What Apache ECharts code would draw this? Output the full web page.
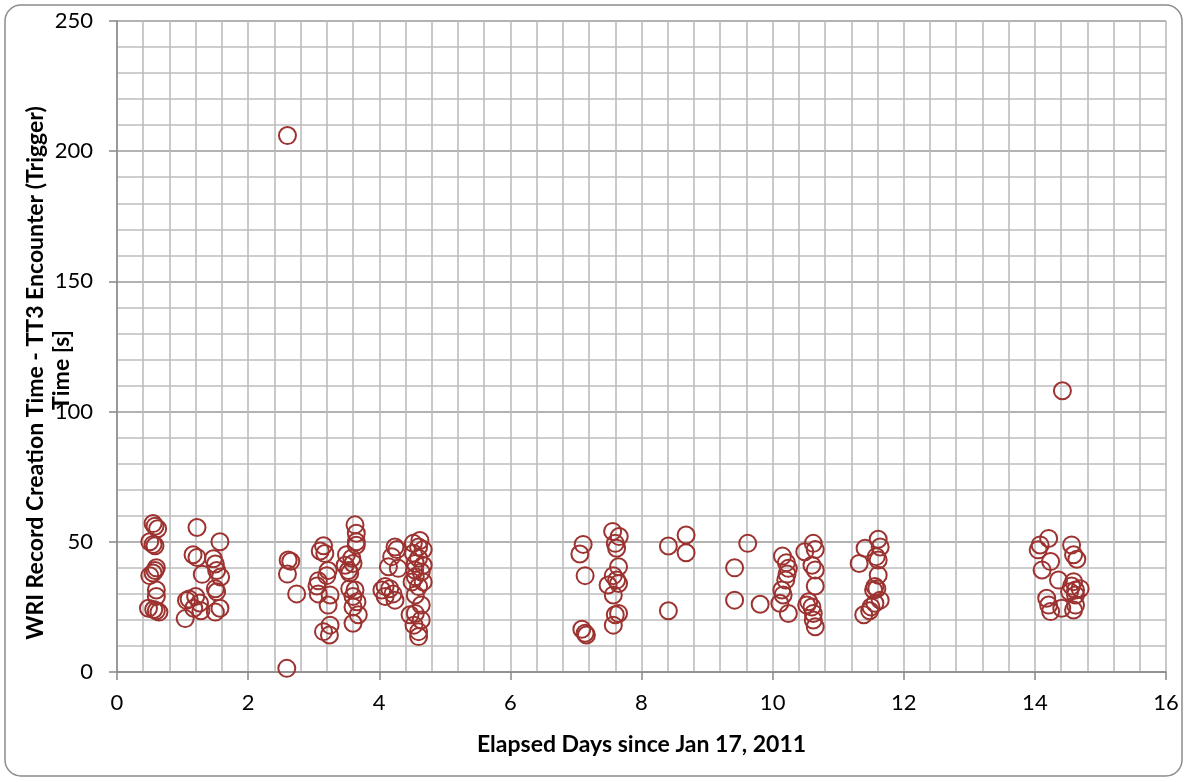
<!DOCTYPE html>
<html><head><meta charset="utf-8">
<script src="https://cdn.jsdelivr.net/npm/echarts@6/dist/echarts.min.js"></script>
<style>html,body{margin:0;padding:0;background:#fff}#c{width:1188px;height:782px}</style>
</head><body><div id="c"></div>
<script>
const xAxisTitle = 'Elapsed Days since Jan 17, 2011';
const yAxisTitle1 = 'WRI Record Creation Time - TT3 Encounter (Trigger)';
const yAxisTitle2 = 'Time [s]';
const days = [
 0.50,0.55,0.58,0.62,0.55,0.58,0.60,0.58,0.55,0.50,0.60,0.60,0.48,0.56,0.60,0.64,
 1.22,1.16,1.22,1.30,1.06,1.10,1.20,1.26,1.17,1.28,1.04,1.47,1.50,1.52,1.58,1.50,1.52,1.57,1.50,1.57,
 2.60,2.61,2.65,2.60,2.74,2.59,
 3.15,3.10,3.17,3.22,3.20,3.07,3.05,3.07,3.25,3.22,3.25,3.15,3.24,
 3.63,3.65,3.65,3.65,3.50,3.58,3.60,3.48,3.53,3.63,3.55,3.60,3.66,3.60,3.68,3.60,3.55,
 4.24,4.27,4.19,4.14,4.29,4.09,4.16,4.04,4.21,4.09,4.24,
 4.62,4.52,4.60,4.67,4.52,4.60,4.55,4.67,4.54,4.64,4.55,4.50,4.67,4.60,4.55,4.64,4.47,4.55,4.64,4.53,4.60,4.60,
 7.11,7.06,7.14,7.09,7.14,7.16,
 7.56,7.66,7.60,7.62,7.65,7.57,7.62,7.49,7.65,7.57,7.65,7.60,7.57,
 8.41,8.41,8.68,8.68,9.62,9.42,9.42,9.81,
 10.15,10.21,10.24,10.22,10.20,10.14,10.16,10.11,10.24,
 10.49,10.62,10.65,10.60,10.65,10.65,10.55,10.60,10.52,10.62,10.62,10.65,
 11.61,11.41,11.64,11.32,11.58,11.61,11.61,11.56,11.59,11.54,11.64,11.56,11.50,11.39,11.48,
 14.42,14.21,14.08,14.05,14.56,14.59,14.64,14.11,14.24,14.36,14.59,14.56,14.69,14.62,14.53,14.62,14.18,14.21,14.24,14.41,14.59,14.62
];
const seconds = [
 50,57,56,55,49,48.5,40,39,38,37,31.5,29,24.5,24,23.5,23,
 55.5,45,44,37.5,27.5,28,29,26.5,24.5,23.5,20.5,43.5,41.5,39,36.5,32,30.8,24.5,23,50,
 206,43,42.5,37.6,30,1.4,
 48.5,46.5,45.5,39,37,35,33,30,29.6,25.7,18,15.5,14.2,
 56.5,53.3,50,48.7,45,43.7,41.7,41,39,31.5,32,29,27,25,22,18.7,38,
 48,47,44.3,40.4,39.8,32.8,32,31.5,30,29,27.6,
 50.5,49.4,48,47,45.6,43.7,41.7,41,39.2,38.4,36.6,34.6,34.6,32.8,29.6,25.7,22,22.5,20,18,15.5,13.6,
 49,45.3,37,16.4,14.9,14.2,
 54,52,49.4,47.5,40.4,37,35.3,33.4,34,29.6,22.5,22,18,
 48.4,23.5,52.6,45.8,49.4,40,27.6,26,
 44.5,42,39.8,37.6,35.3,31.5,29.6,26.4,22.5,
 46.2,49.4,47,41,39.2,33,27,25,25.7,22.5,20,17.4,
 51,47.5,48,41.7,44.3,43,37.2,32.8,32,31.5,27.6,26.4,25,22,23.5,
 108,51.3,48.8,46.9,48.8,45,43.3,39.2,42.4,35.3,34.7,33,32,31.5,30.8,29.6,28.3,25.7,23.2,24.5,23.8,25.7
];
const points = days.map((d, i) => [d, seconds[i]]);

const chart = echarts.init(document.getElementById('c'), null, {renderer: 'canvas'});
const FONT = 'Lato, "Open Sans", sans-serif';
const minorGrid = {color: '#bcbcbc', width: 1.6};
chart.setOption({
  animation: false,
  backgroundColor: '#fff',
  grid: {left: 117, right: 22, top: 21, bottom: 110, containLabel: false},
  graphic: [
    {type: 'rect', shape: {x: 5, y: 5, width: 1177, height: 771, r: 16},
     style: {fill: 'none', stroke: '#8c8c8c', lineWidth: 1.5}, z: 0},
    {type: 'text', x: 36, y: 373, rotation: Math.PI / 2,
     style: {text: yAxisTitle1, font: 'bold 23px ' + FONT, fill: '#000', align: 'center', verticalAlign: 'middle'}},
    {type: 'text', x: 62, y: 370, rotation: Math.PI / 2,
     style: {text: yAxisTitle2, font: 'bold 23px ' + FONT, fill: '#000', align: 'center', verticalAlign: 'middle'}}
  ],
  xAxis: {
    type: 'value', min: 0, max: 16, interval: 2,
    name: xAxisTitle, nameLocation: 'middle', nameGap: 61,
    nameTextStyle: {fontFamily: FONT, fontWeight: 'bold', fontSize: 23, color: '#000'},
    axisLine: {show: true, onZero: false, lineStyle: {color: '#888', width: 1.5}},
    axisTick: {show: true, length: 8, lineStyle: {color: '#888', width: 1.5}},
    axisLabel: {fontFamily: FONT, fontSize: 22, color: '#000', margin: 20},
    splitLine: {show: true, lineStyle: minorGrid},
    minorTick: {show: false, splitNumber: 5},
    minorSplitLine: {show: true, lineStyle: minorGrid}
  },
  yAxis: {
    type: 'value', min: 0, max: 250, interval: 50,
    axisLine: {show: true, onZero: false, lineStyle: {color: '#888', width: 1.5}},
    axisTick: {show: true, length: 8, lineStyle: {color: '#888', width: 1.5}},
    axisLabel: {fontFamily: FONT, fontSize: 22, color: '#000', margin: 24},
    splitLine: {show: true, lineStyle: {color: '#9a9a9a', width: 1.6}},
    minorTick: {show: false, splitNumber: 5},
    minorSplitLine: {show: true, lineStyle: minorGrid}
  },
  series: [{
    type: 'scatter',
    data: points,
    symbol: 'circle',
    symbolSize: 17,
    itemStyle: {color: 'rgba(0,0,0,0)', borderColor: '#9c3330', borderWidth: 2, opacity: 1},
    emphasis: {disabled: true}
  }]
});
</script></body></html>
